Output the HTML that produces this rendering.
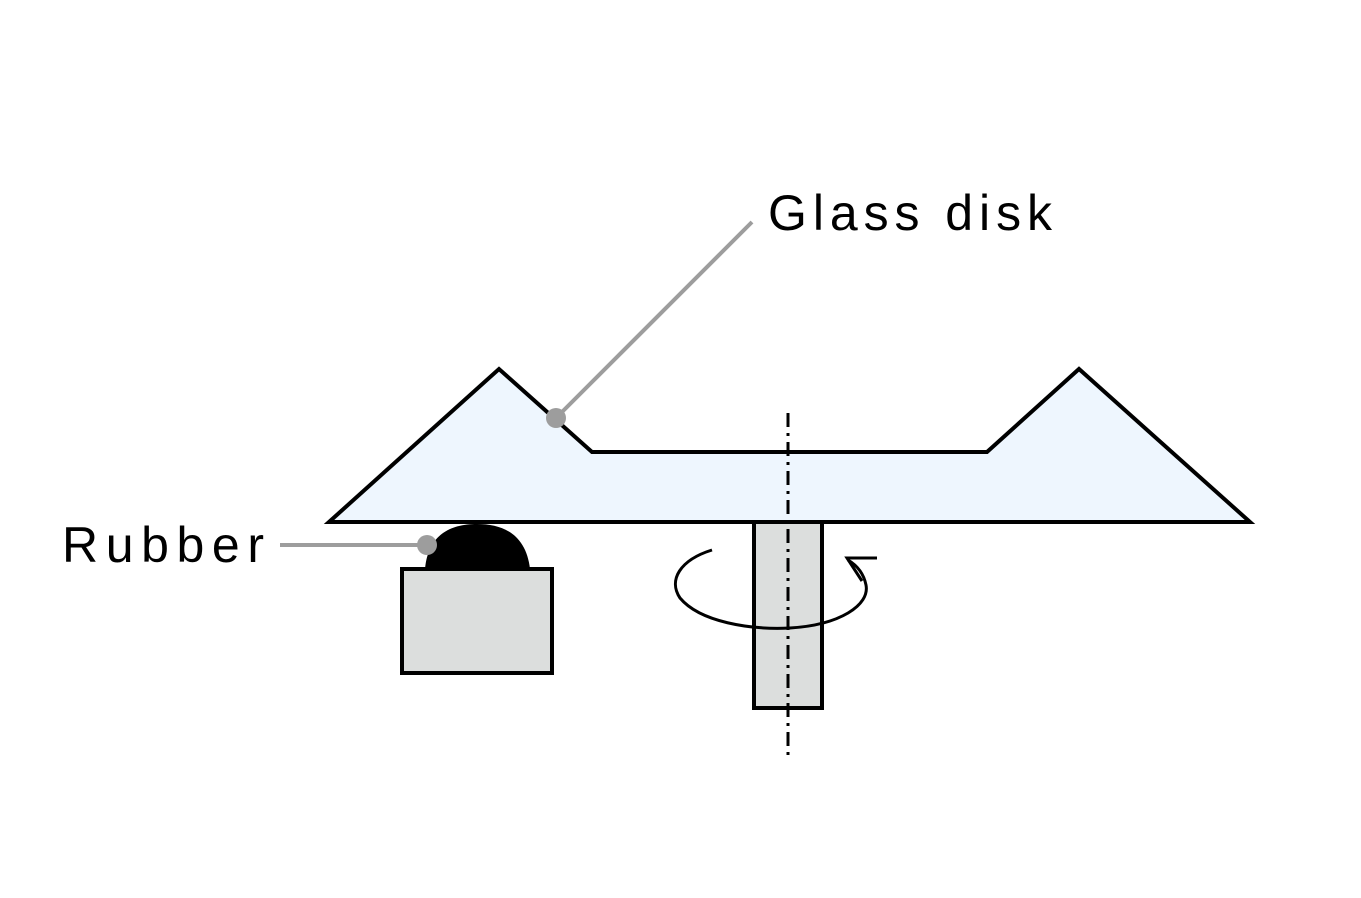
<!DOCTYPE html>
<html><head><meta charset="utf-8"><style>html,body{margin:0;padding:0;background:#fff}svg{display:block}</style></head>
<body>
<svg width="1361" height="898" viewBox="0 0 1361 898" xmlns="http://www.w3.org/2000/svg">
<rect width="1361" height="898" fill="#fff"/>
<polygon points="329,522 499,369 592,452 987,452 1079,369 1250,522" fill="#eef6fe" stroke="#000" stroke-width="4" stroke-linejoin="miter"/>
<rect x="754" y="522" width="68" height="186" fill="#dcdedd" stroke="#000" stroke-width="4"/>
<path d="M425,569 C428,535 450,524 477,524 C504,524 526,535 530,569 Z" fill="#000"/>
<rect x="402" y="569" width="150" height="104" fill="#dcdedd" stroke="#000" stroke-width="4"/>
<line x1="788" y1="413" x2="788" y2="756" stroke="#000" stroke-width="3" stroke-dasharray="14,6,3,6"/>
<path d="M712,550 C680,560 668,580 680,598 C700,622 750,630 790,628 C840,625 870,605 866,585 C864,575 858,566 848,560" fill="none" stroke="#000" stroke-width="3"/>
<polyline points="877,558 847,558 862,581" fill="none" stroke="#000" stroke-width="3"/>
<line x1="556" y1="418" x2="752" y2="222" stroke="#9d9d9d" stroke-width="4"/>
<circle cx="556" cy="418" r="10" fill="#9d9d9d"/>
<line x1="280" y1="545" x2="427" y2="545" stroke="#9d9d9d" stroke-width="4"/>
<circle cx="427" cy="545" r="10" fill="#9d9d9d"/>
<text x="768" y="230" font-family="Liberation Sans, sans-serif" font-size="50" textLength="284" lengthAdjust="spacing" fill="#000">Glass disk</text>
<text x="62" y="562" font-family="Liberation Sans, sans-serif" font-size="50" textLength="202" lengthAdjust="spacing" fill="#000">Rubber</text>
</svg>
</body></html>
